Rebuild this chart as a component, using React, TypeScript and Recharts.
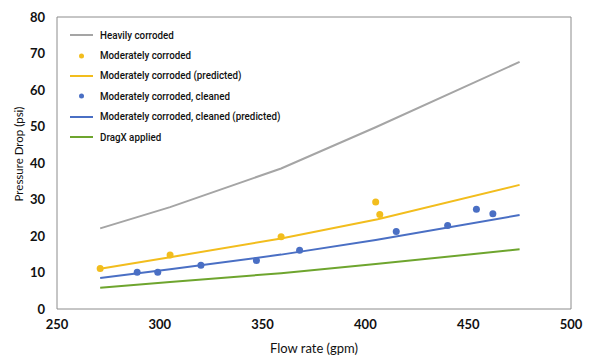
import { ComposedChart, Line, ReferenceLine, Scatter, XAxis, YAxis } from 'recharts';

// flow rate (gpm) vs pressure drop (psi)
const heavyX = [271, 305, 359, 405, 475];
const heavyY = [22.1, 27.9, 38.5, 49.8, 67.7];

const modX = [271, 305, 359, 405, 407];
const modY = [11.1, 14.8, 19.8, 29.3, 25.9];

const modPredX = [271, 305, 359, 406, 475];
const modPredY = [11.0, 14.2, 19.3, 24.6, 34.0];

const cleanX = [289, 299, 320, 347, 368, 415, 440, 454, 462];
const cleanY = [10.1, 10.1, 12.0, 13.3, 16.1, 21.2, 22.9, 27.3, 26.1];

const cleanPredX = [271, 305, 359, 405, 475];
const cleanPredY = [8.5, 10.9, 14.9, 18.9, 25.75];

const dragX = [271, 305, 359, 405, 475];
const dragY = [5.8, 7.4, 9.8, 12.3, 16.35];

const xTicks = [250, 300, 350, 400, 450, 500];
const yTicks = [0, 10, 20, 30, 40, 50, 60, 70, 80];

const pts = (xs: number[], ys: number[]) => xs.map((x, i) => ({ x, y: ys[i] }));

const GRAY = '#a5a5a5';
const GOLD = '#f2bd1d';
const BLUE = '#4a6fc4';
const GREEN = '#6ea52e';
const BORDER = '#8c8c8c';

const legendItems = [
  { name: 'Heavily corroded', color: GRAY, kind: 'line' },
  { name: 'Moderately corroded', color: GOLD, kind: 'dot' },
  { name: 'Moderately corroded (predicted)', color: GOLD, kind: 'line' },
  { name: 'Moderately corroded, cleaned', color: BLUE, kind: 'dot' },
  { name: 'Moderately corroded, cleaned (predicted)', color: BLUE, kind: 'line' },
  { name: 'DragX applied', color: GREEN, kind: 'line' },
];

const tickStyle = { fontSize: 13, fontWeight: 700, fill: '#111', fontFamily: 'Lato, sans-serif' };
const titleStyle = { fontSize: 13, fill: '#111', fontFamily: 'Lato, sans-serif' };

function LegendBox() {
  return (
    <div
      style={{
        position: 'absolute',
        left: 70,
        top: 25,
        fontFamily: 'Roboto, sans-serif',
        fontSize: 11,
        fontWeight: 500,
        color: '#111',
        lineHeight: 1,
      }}
    >
      {legendItems.map((it) => (
        <div key={it.name} style={{ display: 'flex', alignItems: 'center', height: 20.4 }}>
          <svg width={23} height={10} style={{ marginRight: 7, flexShrink: 0 }}>
            {it.kind === 'line' ? (
              <line x1={0} y1={5} x2={23} y2={5} stroke={it.color} strokeWidth={2} />
            ) : (
              <circle cx={11.5} cy={5} r={2.5} fill={it.color} />
            )}
          </svg>
          <span style={{ display: 'inline-block', transform: 'scaleX(0.89)', transformOrigin: 'left center', whiteSpace: 'nowrap' }}>
            {it.name}
          </span>
        </div>
      ))}
    </div>
  );
}

// y title sits a little above the plot's centre in the original
function YTitle(props: any) {
  const vb = props.viewBox || { x: 0, y: 0, width: 0, height: 0 };
  const x = 18;
  const y = vb.y + vb.height / 2 - 9;
  return (
    <text x={x} y={y} transform={`rotate(-90, ${x}, ${y})`} textAnchor="middle" dominantBaseline="central" style={{ ...titleStyle, fontSize: 11.5 }}>
      Pressure Drop (psi)
    </text>
  );
}

export default function App() {
  return (
    <div style={{ position: 'absolute', left: 0, top: 0, width: 600, height: 363, background: '#fff' }}>
      <ComposedChart width={600} height={363} margin={{ top: 17, right: 29, left: 0, bottom: 0 }}>
        <XAxis
          type="number"
          dataKey="x"
          domain={[250, 500]}
          ticks={xTicks}
          stroke={BORDER}
          tickLine={false}
          tickSize={0}
          tickMargin={11}
          tick={tickStyle}
          height={54}
          label={{ value: 'Flow rate (gpm)', position: 'insideBottom', offset: 10, style: titleStyle }}
        />
        <YAxis
          type="number"
          dataKey="y"
          domain={[0, 80]}
          ticks={yTicks}
          stroke={BORDER}
          tickLine={false}
          tickSize={0}
          tickMargin={12}
          tick={tickStyle}
          width={57}
          label={<YTitle />}
        />
        <ReferenceLine y={80} stroke={BORDER} strokeWidth={1} />
        <ReferenceLine x={500} stroke={BORDER} strokeWidth={1} />
        <Line data={pts(heavyX, heavyY)} dataKey="y" stroke={GRAY} strokeWidth={2} dot={false} isAnimationActive={false} />
        <Line data={pts(modPredX, modPredY)} dataKey="y" stroke={GOLD} strokeWidth={2} dot={false} isAnimationActive={false} />
        <Line data={pts(cleanPredX, cleanPredY)} dataKey="y" stroke={BLUE} strokeWidth={2} dot={false} isAnimationActive={false} />
        <Line data={pts(dragX, dragY)} dataKey="y" stroke={GREEN} strokeWidth={2} dot={false} isAnimationActive={false} />
        <Scatter data={pts(modX, modY)} dataKey="y" fill={GOLD} shape={(p: any) => <circle cx={p.cx} cy={p.cy} r={3.5} fill={GOLD} />} isAnimationActive={false} />
        <Scatter data={pts(cleanX, cleanY)} dataKey="y" fill={BLUE} shape={(p: any) => <circle cx={p.cx} cy={p.cy} r={3.5} fill={BLUE} />} isAnimationActive={false} />
      </ComposedChart>
      <LegendBox />
    </div>
  );
}
